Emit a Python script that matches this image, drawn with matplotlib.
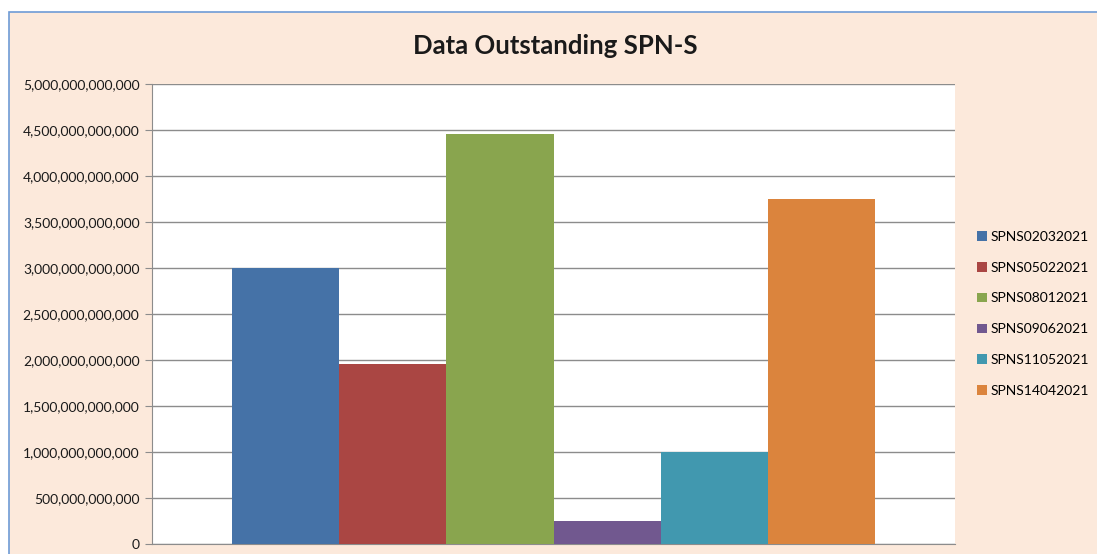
import matplotlib
matplotlib.use('Agg')
import matplotlib.pyplot as plt
from matplotlib.patches import Rectangle
from matplotlib.ticker import FuncFormatter

seri = ['SPNS02032021', 'SPNS05022021', 'SPNS08012021', 'SPNS09062021', 'SPNS11052021', 'SPNS14042021']
nilai = [3.0e12, 1.955e12, 4.455e12, 0.25e12, 1.0e12, 3.75e12]
warna = ['#4572A7', '#AA4643', '#89A54E', '#71588F', '#4198AF', '#DB843D']
yticks = [0, 5e11, 1e12, 1.5e12, 2e12, 2.5e12, 3e12, 3.5e12, 4e12, 4.5e12, 5e12]

plt.rcParams['font.family'] = ['Lato', 'DejaVu Sans']
W, H = 1097, 554
fig = plt.figure(figsize=(W / 100, H / 100), dpi=100)
fig.patch.set_facecolor('white')

# latar chart (terpotong di kanan dan bawah)
fig.patches.append(Rectangle((9 / W, -0.1), 1.2, (H - 12) / H + 0.1, transform=fig.transFigure,
                             facecolor='#FCE9DB', edgecolor='#6E9BD6', linewidth=1.2, zorder=-5))

ax = fig.add_axes([152 / W, 10 / H, 803 / W, 460 / H])
ax.set_zorder(2)
ax.set_facecolor('white')

lebar = 1 / 7.5
n = len(seri)
for i in range(n):
    pos = (i - (n - 1) / 2) * lebar
    ax.bar(pos, nilai[i], width=lebar, color=warna[i], label=seri[i], zorder=3)

ax.set_xlim(-0.5, 0.5)
ax.set_ylim(0, 5e12)
ax.set_yticks(yticks)
ax.yaxis.set_major_formatter(FuncFormatter(lambda v, p: '{:,.0f}'.format(v)))
ax.yaxis.grid(True, color='#8C8C8C', linewidth=1, zorder=1)
ax.set_xticks([])
ax.tick_params(axis='y', length=5, color='#8C8C8C', labelsize=10, labelcolor='#1a1a1a', pad=4)
for s in ['top', 'right']:
    ax.spines[s].set_visible(False)
ax.spines['left'].set_color('#8C8C8C')
ax.spines['bottom'].set_color('#8C8C8C')

fig.text(555 / W, 1 - 46 / H, 'Data Outstanding SPN-S', ha='center', va='center',
         fontsize=18.5, fontweight='bold', color='#1a1a1a')

fig.legend(loc='upper left', bbox_to_anchor=(977 / W, 1 - 231 / H), frameon=False,
           fontsize=10, handlelength=0.7, handleheight=0.7, handletextpad=0.3,
           labelspacing=1.35, borderaxespad=0, borderpad=0)

fig.savefig('out.png', dpi=100)
